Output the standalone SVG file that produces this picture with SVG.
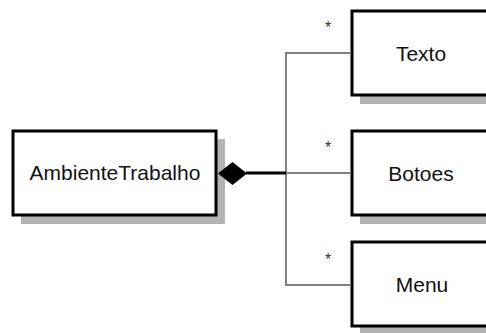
<svg xmlns="http://www.w3.org/2000/svg" width="486" height="333" viewBox="0 0 486 333">
<style>
.shadow{fill:#b3b3b3;stroke:none}
.box{fill:#ffffff;stroke:#000000;stroke-width:3}
.lbl{font-family:"Liberation Sans",Arial,sans-serif;font-size:21px;fill:#111111;text-anchor:middle}
.mult{font-family:"Liberation Sans",Arial,sans-serif;font-size:16px;fill:#333333;text-anchor:middle}
.conn{fill:none;stroke:#808080;stroke-width:2}
</style>
<rect width="486" height="333" fill="#ffffff"/>
<g id="AmbienteTrabalho">
<rect class="shadow" x="21" y="139" width="204" height="85"/>
<rect class="box" x="13" y="131" width="203" height="84"/>
<text class="lbl" x="115" y="180">AmbienteTrabalho</text>
</g>
<g id="Texto">
<rect class="shadow" x="360" y="19" width="140" height="85"/>
<rect class="box" x="352" y="11" width="140" height="84"/>
<text class="lbl" x="421" y="61">Texto</text>
</g>
<g id="Botoes">
<rect class="shadow" x="360" y="139" width="140" height="85"/>
<rect class="box" x="352" y="131" width="140" height="84"/>
<text class="lbl" x="421" y="181">Botoes</text>
</g>
<g id="Menu">
<rect class="shadow" x="360" y="250" width="140" height="85"/>
<rect class="box" x="352" y="242" width="140" height="84"/>
<text class="lbl" x="422" y="292">Menu</text>
</g>
<g id="connectors">
<path class="conn" d="M350,53 H286 V285 H350 M286,173 H350"/>
<line x1="246" y1="173" x2="286" y2="173" stroke="#000000" stroke-width="3"/>
<polygon points="218,173.5 232.5,162 247,173.5 232.5,185" fill="#000000"/>
<text class="mult" x="328" y="33">*</text>
<text class="mult" x="328" y="153">*</text>
<text class="mult" x="328" y="265">*</text>
</g>
</svg>
